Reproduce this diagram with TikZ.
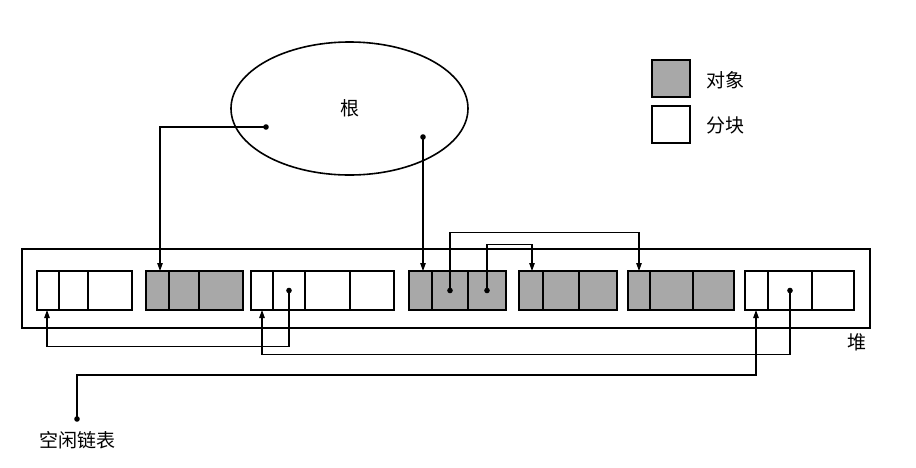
\documentclass[tikz,border=0pt]{standalone}
\usepackage{fontspec}
\newfontfamily\cjk{Noto Sans CJK SC}
\usetikzlibrary{shapes.geometric,arrows.meta,calc}
\definecolor{objgray}{RGB}{168,168,168}
\begin{document}
\begin{tikzpicture}[x=1pt,y=-1pt,
  cellw/.style={draw, line width=1.6pt, fill=white, inner sep=0pt, outer sep=0pt, minimum height=39pt, anchor=north west},
  cellg/.style={cellw, fill=objgray},
  conn/.style={line width=1.1pt, -{Triangle[length=8pt,width=5.5pt]}},
  lbl/.style={font=\cjk\fontsize{19}{22}\selectfont, inner sep=0pt},
  dotc/.style={circle, fill=black, inner sep=0pt, minimum size=5pt}]
\useasboundingbox (0,0) rectangle (916,467);
% heap
\node[draw, line width=1.6pt, inner sep=0pt, outer sep=0pt, minimum width=848pt, minimum height=79pt, anchor=north west] (heap) at (22,249) {};
\node[lbl] (heaplbl) at (857,342) {堆};
% root
\node[draw, ellipse, line width=1.6pt, minimum width=237pt, minimum height=133pt, inner sep=0pt, font=\cjk\fontsize{19}{22}\selectfont] (root) at (349.5,108.5) {根};
\coordinate (r1) at (266,127);
\coordinate (r2) at (423,137);
% legend
\node[cellg, minimum width=38pt, minimum height=37pt] (legobj) at (652,60) {};
\node[cellw, minimum width=38pt, minimum height=37pt] (legblk) at (652,106) {};
\node[lbl] (legobjt) at (725,80) {对象};
\node[lbl] (legblkt) at (725,125) {分块};
% block 1
\node[cellw, minimum width=22pt] (b1a) at (37,271) {};
\node[cellw, minimum width=29pt] (b1b) at (59,271) {};
\node[cellw, minimum width=44pt] (b1c) at (88,271) {};
% block 2
\node[cellg, minimum width=23pt] (b2a) at (146,271) {};
\node[cellg, minimum width=30pt] (b2b) at (169,271) {};
\node[cellg, minimum width=44pt] (b2c) at (199,271) {};
% block 3
\node[cellw, minimum width=22pt] (b3a) at (251,271) {};
\node[cellw, minimum width=32pt] (b3b) at (273,271) {};
\node[cellw, minimum width=45pt] (b3c) at (305,271) {};
\node[cellw, minimum width=44pt] (b3d) at (350,271) {};
% block 4
\node[cellg, minimum width=23pt] (b4a) at (409,271) {};
\node[cellg, minimum width=36pt] (b4b) at (432,271) {};
\node[cellg, minimum width=38pt] (b4c) at (468,271) {};
% block 5
\node[cellg, minimum width=24pt] (b5a) at (519,271) {};
\node[cellg, minimum width=36pt] (b5b) at (543,271) {};
\node[cellg, minimum width=38pt] (b5c) at (579,271) {};
% block 6
\node[cellg, minimum width=22pt] (b6a) at (628,271) {};
\node[cellg, minimum width=43pt] (b6b) at (650,271) {};
\node[cellg, minimum width=41pt] (b6c) at (693,271) {};
% block 7
\node[cellw, minimum width=23pt] (b7a) at (745,271) {};
\node[cellw, minimum width=44pt] (b7b) at (768,271) {};
\node[cellw, minimum width=42pt] (b7c) at (812,271) {};
% free list
\coordinate (fl) at (77,419);
\node[lbl] (fllbl) at (77,440) {空闲链表};
% connectors
\draw[conn] (r1) -| ([xshift=14pt]b2a.north west);
\draw[conn] (r2) -- (r2 |- b4a.north);
\draw[conn] (b4b.center) -- ++(0,-58) -| ([xshift=11pt]b6a.north west);
\draw[conn] (b4c.center) -- ++(0,-46) -| ([xshift=13pt]b5a.north west);
\draw[conn] (b3b.center) -- ++(0,56) -| ([xshift=10pt]b1a.south west);
\draw[conn] (b7b.center) -- ++(0,64) -| ([xshift=11pt]b3a.south west);
\draw[conn] (fl) -- ++(0,-44) -| ([xshift=11pt]b7a.south west);
% dots
\foreach \p in {r1,r2,b3b.center,b4b.center,b4c.center,b7b.center,fl}
  \fill (\p) circle (2.8pt);
\end{tikzpicture}
\end{document}
